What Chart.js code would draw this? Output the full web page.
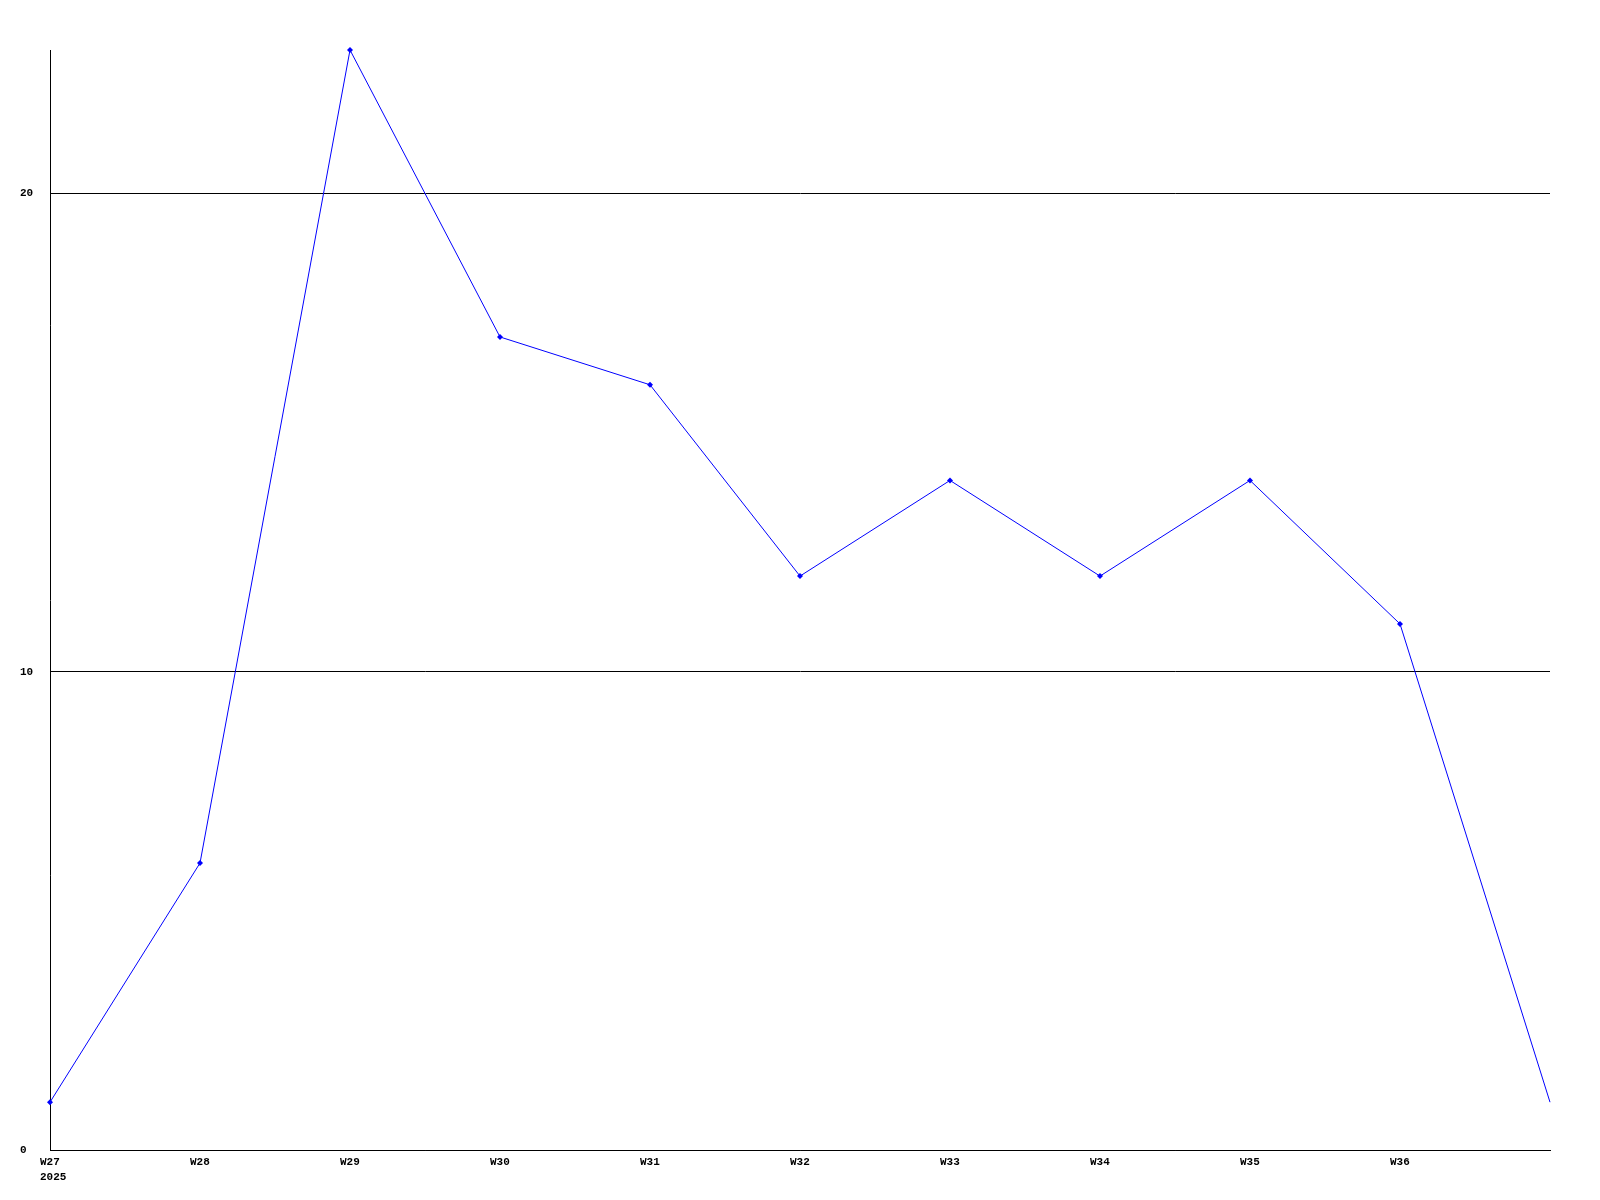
<!DOCTYPE html>
<html>
<head>
<meta charset="utf-8">
<style>
  html, body { margin: 0; padding: 0; background: #ffffff; }
  #wrap { width: 1600px; height: 1200px; }
</style>
<script src="https://cdn.jsdelivr.net/npm/chart.js@4/dist/chart.umd.min.js"></script>
</head>
<body>
<div id="wrap"><canvas id="c" width="1600" height="1200"></canvas></div>
<script>
const categories = [["W27", "2025"], "W28", "W29", "W30", "W31", "W32", "W33", "W34", "W35", "W36", ""];
const seriesValues = [1, 6, 23, 17, 16, 12, 14, 12, 14, 11, 1];
const yTickValues = [0, 10, 20];
const yMin = 0;
const yMax = 23;

// left-align multi-line x labels from a common start (like the reference)
const leftAlignLabels = {
  id: 'leftAlignLabels',
  beforeDraw(chart) {
    const xs = chart.scales.x;
    if (xs._patched) return;
    const orig = xs._computeLabelItems.bind(xs);
    xs._computeLabelItems = function (area) {
      const items = orig(area);
      items.forEach(it => {
        it.options.textAlign = 'left';
        it.options.translation = [it.options.translation[0] - 10, it.options.translation[1]];
      });
      return items;
    };
    xs._labelItems = null;
    xs._patched = true;
  }
};

const ctx = document.getElementById('c').getContext('2d');
new Chart(ctx, {
  type: 'line',
  data: {
    labels: categories,
    datasets: [{
      data: seriesValues,
      borderColor: '#0000ff',
      backgroundColor: '#0000ff',
      borderWidth: 1,
      fill: false,
      tension: 0,
      pointStyle: 'rectRot',
      pointRadius: seriesValues.map((v, i) => i === seriesValues.length - 1 ? 0 : 3),
      pointBorderWidth: 0,
      pointHoverRadius: 0,
      clip: false
    }]
  },
  plugins: [leftAlignLabels],
  options: {
    responsive: false,
    animation: false,
    devicePixelRatio: 1,
    layout: { padding: { left: 20, right: 50, top: 50, bottom: 0 } },
    plugins: { legend: { display: false }, tooltip: { enabled: false }, title: { display: false } },
    scales: {
      x: {
        type: 'category',
        offset: false,
        grid: { display: false, drawTicks: false },
        border: { display: true, color: '#000000', width: 1 },
        ticks: {
          autoSkip: false,
          maxRotation: 0,
          minRotation: 0,
          padding: 5,
          color: '#000000',
          font: { family: '"Liberation Mono", "DejaVu Sans Mono", monospace', size: 11, weight: 'bold', lineHeight: 1.32 }
        },
        afterFit: (s) => { s.height = 50; }
      },
      y: {
        min: yMin,
        max: yMax,
        afterBuildTicks: (s) => { s.ticks = yTickValues.map(v => ({ value: v })); },
        grid: { color: '#000000', lineWidth: 1, drawTicks: false },
        border: { display: true, color: '#000000', width: 1 },
        ticks: {
          crossAlign: 'far',
          padding: 0,
          color: '#000000',
          font: { family: '"Liberation Mono", "DejaVu Sans Mono", monospace', size: 11, weight: 'bold' }
        },
        afterFit: (s) => { s.width = 30; }
      }
    }
  }
});
</script>
</body>
</html>
